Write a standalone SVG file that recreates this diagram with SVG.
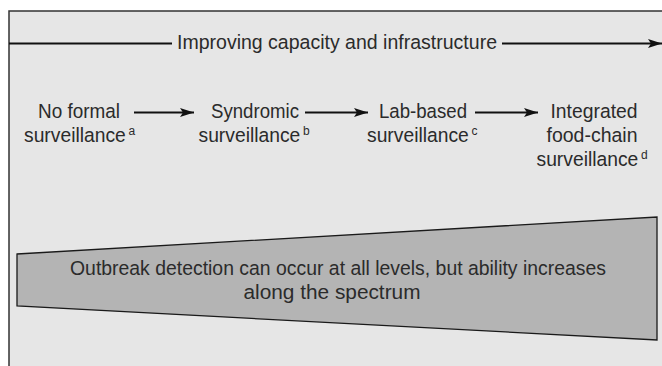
<svg xmlns="http://www.w3.org/2000/svg" width="662" height="366" viewBox="0 0 662 366">
  <defs>
    <marker id="ah" viewBox="0 0 14 10" refX="14" refY="5" markerWidth="14" markerHeight="10" markerUnits="userSpaceOnUse" orient="auto">
      <path d="M0,0.5 L14,5 L0,9.5 L3,5 Z" fill="#111"/>
    </marker>
    <style>
      .t { font-family: "Liberation Sans", Arial, sans-serif; font-size: 20.5px; fill: #2b2b2b; text-anchor: middle; }
      .sv { font-family: "Liberation Sans", Arial, sans-serif; font-size: 19.3px; fill: #2b2b2b; text-anchor: start; }
      .sup { font-family: "Liberation Sans", Arial, sans-serif; font-size: 12px; fill: #2b2b2b; }
      .ln { stroke: #111; stroke-width: 2.2; fill: none; }
    </style>
  </defs>
  <rect x="0" y="0" width="662" height="366" fill="#ffffff"/>
  <rect id="frame" x="9" y="11" width="680" height="400" fill="#e6e6e6" stroke="#333" stroke-width="1.5"/>

  <g id="connectors">
    <line class="ln" x1="9" y1="43.5" x2="172" y2="43.5"/>
    <line class="ln" x1="502" y1="43.5" x2="662" y2="43.5" marker-end="url(#ah)"/>
    <line class="ln" x1="134" y1="112.5" x2="194" y2="112.5" marker-end="url(#ah)"/>
    <line class="ln" x1="305" y1="112.5" x2="368" y2="112.5" marker-end="url(#ah)"/>
    <line class="ln" x1="475" y1="112.5" x2="538" y2="112.5" marker-end="url(#ah)"/>
  </g>

  <g id="title">
    <text class="t" x="337" y="49" textLength="320" lengthAdjust="spacingAndGlyphs">Improving capacity and infrastructure</text>
  </g>

  <g id="node-no-formal">
    <text class="t" x="79" y="118" textLength="82" lengthAdjust="spacingAndGlyphs">No formal</text>
    <text class="sv" x="24" y="142">surveillance</text>
    <text class="sup" x="128.5" y="135">a</text>
  </g>
  <g id="node-syndromic">
    <text class="t" x="255" y="118" textLength="88" lengthAdjust="spacingAndGlyphs">Syndromic</text>
    <text class="sv" x="198.5" y="142">surveillance</text>
    <text class="sup" x="303" y="135">b</text>
  </g>
  <g id="node-lab">
    <text class="t" x="423" y="118" textLength="88" lengthAdjust="spacingAndGlyphs">Lab-based</text>
    <text class="sv" x="367" y="142">surveillance</text>
    <text class="sup" x="471.5" y="135">c</text>
  </g>
  <g id="node-integrated">
    <text class="t" x="594" y="118" textLength="87" lengthAdjust="spacingAndGlyphs">Integrated</text>
    <text class="t" x="592" y="142" textLength="91" lengthAdjust="spacingAndGlyphs">food-chain</text>
    <text class="sv" x="536.5" y="166">surveillance</text>
    <text class="sup" x="641" y="159">d</text>
  </g>

  <g id="spectrum">
    <polygon points="17,254 657,217 657,340 17,306" fill="#b4b4b4" stroke="#1a1a1a" stroke-width="1.3"/>
    <text class="t" x="338" y="275" textLength="536" lengthAdjust="spacingAndGlyphs">Outbreak detection can occur at all levels, but ability increases</text>
    <text class="t" x="332" y="299" textLength="177" lengthAdjust="spacingAndGlyphs">along the spectrum</text>
  </g>
</svg>
